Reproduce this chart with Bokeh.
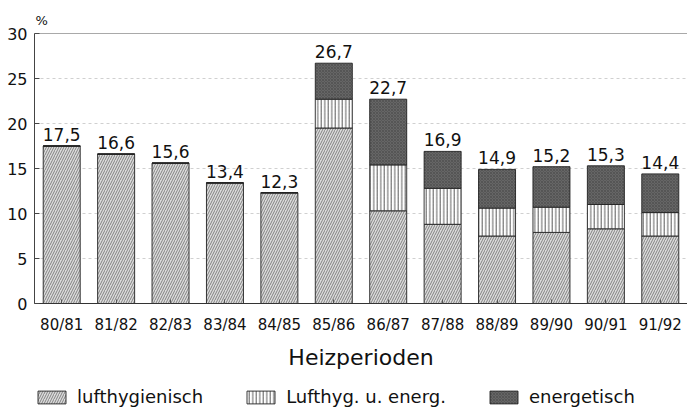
from bokeh.plotting import figure
from bokeh.layouts import column
from bokeh.models import ColumnDataSource, FactorRange, Span, Legend, LegendItem, Range1d
from bokeh.core.properties import value
from bokeh.embed import file_html
from bokeh.resources import INLINE

# ---- data ----
periods = ["80/81", "81/82", "82/83", "83/84", "84/85", "85/86",
           "86/87", "87/88", "88/89", "89/90", "90/91", "91/92"]
lufthygienisch = [17.5, 16.6, 15.6, 13.4, 12.3, 19.5, 10.3, 8.8, 7.5, 7.9, 8.3, 7.5]
lufthyg_energ = [0, 0, 0, 0, 0, 3.2, 5.1, 4.0, 3.1, 2.8, 2.7, 2.6]
energetisch = [0, 0, 0, 0, 0, 4.0, 7.3, 4.1, 4.3, 4.5, 4.3, 4.3]
series_names = ["lufthygienisch", "Lufthyg. u. energ.", "energetisch"]
y_ticks = [0, 5, 10, 15, 20, 25, 30]

totals = [round(a + b + c, 1) for a, b, c in zip(lufthygienisch, lufthyg_energ, energetisch)]
labels = [f"{t:.1f}".replace(".", ",") for t in totals]

source = ColumnDataSource(dict(
    period=periods, l=lufthygienisch, le=lufthyg_energ, e=energetisch,
    total=totals, label=labels,
))

FONT = "DejaVu Sans"

p = figure(
    x_range=FactorRange(*periods, range_padding=0),
    y_range=Range1d(0, 30),
    width=687, height=372,
    output_backend="svg", toolbar_location=None,
    min_border_left=34, min_border_right=0, min_border_top=33, min_border_bottom=69,
    title="%",
)
p.background_fill_color = "white"
p.border_fill_color = "white"
p.outline_line_color = None

p.title.align = "left"
p.title.offset = 1
p.title.standoff = 12
p.title.text_font = FONT
p.title.text_font_size = "13px"
p.title.text_font_style = "normal"
p.title.text_color = "#111111"

styles = [
    dict(fill_color="#dcdcdc", hatch_pattern="/", hatch_color="#6a6a6a", hatch_scale=5, hatch_weight=0.8),
    dict(fill_color="#ffffff", hatch_pattern="|", hatch_color="#303030", hatch_scale=3.5, hatch_weight=0.8),
    dict(fill_color="#666666", hatch_pattern="x", hatch_color="#4a4a4a", hatch_scale=3, hatch_weight=0.6),
]
LINE = dict(line_color="#222222", line_width=0.9)

p.vbar_stack(
    ["l", "le", "e"], x="period", width=0.68, source=source, **LINE,
    fill_color=[s["fill_color"] for s in styles],
    hatch_pattern=[s["hatch_pattern"] for s in styles],
    hatch_color=[s["hatch_color"] for s in styles],
    hatch_scale=[s["hatch_scale"] for s in styles],
    hatch_weight=[s["hatch_weight"] for s in styles],
)

p.text(x="period", y="total", text="label", source=source,
       text_align="center", text_baseline="bottom", y_offset=-5,
       text_font=value(FONT), text_font_size="17px", text_color="#111111")

# axes
p.yaxis.ticker = y_ticks
p.yaxis.major_label_text_font = FONT
p.yaxis.major_label_text_font_size = "16px"
p.yaxis.major_label_text_color = "#111111"
p.yaxis.major_label_standoff = 7
p.yaxis.major_tick_in = 5
p.yaxis.major_tick_out = 0
p.yaxis.minor_tick_line_color = None
p.yaxis.axis_line_color = "#444444"
p.yaxis.major_tick_line_color = "#444444"

p.xaxis.axis_label = "Heizperioden"
p.xaxis.axis_label_text_font = FONT
p.xaxis.axis_label_text_font_size = "22px"
p.xaxis.axis_label_text_font_style = "normal"
p.xaxis.axis_label_text_color = "#111111"
p.xaxis.axis_label_standoff = 8
p.xaxis.major_label_text_font = FONT
p.xaxis.major_label_text_font_size = "15px"
p.xaxis.major_label_text_color = "#111111"
p.xaxis.major_label_standoff = 12
p.xaxis.major_tick_in = 4
p.xaxis.major_tick_out = 0
p.xaxis.axis_line_color = "#333333"
p.xaxis.major_tick_line_color = "#555555"

p.xgrid.grid_line_color = None
p.ygrid.grid_line_color = "#c4c4c4"
p.ygrid.grid_line_dash = "3 3"
p.ygrid.grid_line_width = 0.8

p.add_layout(Span(location=30, dimension="width", line_color="#555555", line_width=1.2))

# ---- legend strip (separate figure; off-range proxy bars with the same styles) ----
lg = figure(width=687, height=40, output_backend="svg", toolbar_location=None,
            x_range=Range1d(0, 1), y_range=Range1d(0, 1),
            min_border_left=34, min_border_right=0, min_border_top=0, min_border_bottom=0)
lg.axis.visible = False
lg.grid.visible = False
lg.outline_line_color = None
lg.background_fill_color = "white"
lg.border_fill_color = "white"
proxy_src = ColumnDataSource(dict(x=[5.0], top=[-5.0], bottom=[-6.0]))
proxies = [lg.vbar(x="x", top="top", bottom="bottom", width=0.5, source=proxy_src, **LINE, **s)
           for s in styles]

legend = Legend(
    items=[LegendItem(label=n, renderers=[r]) for n, r in zip(series_names, proxies)],
    orientation="horizontal", location=(0, 5),
    glyph_width=35, glyph_height=16, label_height=16, label_standoff=8, spacing=40,
    padding=0, margin=0, border_line_color=None, background_fill_alpha=0,
    label_text_font=FONT, label_text_font_size="18px", label_text_color="#111111",
    label_text_baseline="middle",
)
lg.add_layout(legend, "center")

layout = column(p, lg, spacing=0)
open("out.html", "w").write(file_html(layout, INLINE))
